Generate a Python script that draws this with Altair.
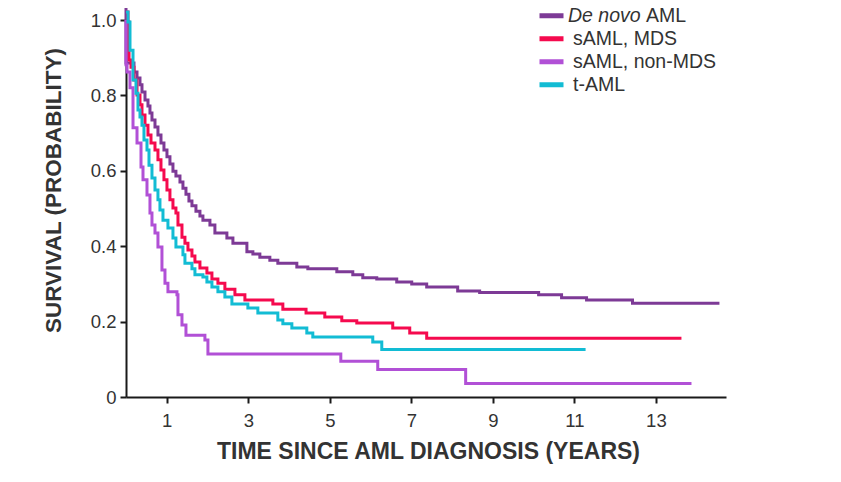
import altair as alt
import pandas as pd

series_names = ["De novo AML", "sAML, MDS", "sAML, non-MDS", "t-AML"]
series_colors = ["#7D3A96", "#F50A4E", "#B150D6", "#12BCD4"]

x_ticks = [1, 3, 5, 7, 9, 11, 13]
y_ticks = [0, 0.2, 0.4, 0.6, 0.8, 1.0]

# Kaplan-Meier steps (years, survival probability)
de_novo_t = [0, 0, 0.196, 0.270, 0.343, 0.392, 0.466, 0.539, 0.588, 0.637, 0.711, 0.784,
             0.858, 0.931, 1.005, 1.078, 1.152, 1.225, 1.324, 1.397, 1.471, 1.544,
             1.618, 1.716, 1.814, 1.887, 2.059, 2.181, 2.475, 2.623, 2.966, 3.113,
             3.284, 3.529, 3.725, 4.191, 4.461, 5.172, 5.564, 5.809, 6.152, 6.642,
             7.010, 7.377, 8.137, 8.676, 10.123, 10.686, 11.299, 12.426, 14.559]
de_novo_s = [1.032, 0.886, 0.862, 0.846, 0.828, 0.809, 0.788, 0.772, 0.753, 0.735, 0.716, 0.695,
             0.674, 0.655, 0.637, 0.618, 0.599, 0.586, 0.570, 0.554, 0.538, 0.520,
             0.507, 0.493, 0.480, 0.469, 0.456, 0.435, 0.422, 0.408, 0.385, 0.379,
             0.371, 0.363, 0.355, 0.345, 0.340, 0.332, 0.324, 0.316, 0.313, 0.305,
             0.300, 0.292, 0.281, 0.277, 0.271, 0.263, 0.257, 0.249, 0.249]

mds_t = [0, 0.049, 0.074, 0.123, 0.196, 0.270, 0.343, 0.392, 0.466, 0.539,
         0.613, 0.711, 0.784, 0.858, 0.931, 1.005, 1.078, 1.152, 1.225, 1.275,
         1.373, 1.446, 1.520, 1.618, 1.691, 1.814, 1.985, 2.108, 2.255, 2.426,
         2.672, 2.917, 3.603, 3.848, 4.417, 4.877, 5.294, 5.662, 6.544, 6.961,
         7.377, 13.627]
mds_s = [1.021, 0.995, 0.894, 0.875, 0.841, 0.801, 0.775, 0.748, 0.721, 0.695,
         0.674, 0.655, 0.629, 0.602, 0.576, 0.549, 0.523, 0.501, 0.488, 0.456,
         0.424, 0.408, 0.390, 0.374, 0.358, 0.342, 0.329, 0.313, 0.302, 0.286,
         0.271, 0.257, 0.247, 0.233, 0.223, 0.212, 0.202, 0.196, 0.183, 0.170,
         0.156, 0.156]

non_mds_t = [0, 0, 0.025, 0.098, 0.172, 0.270, 0.368, 0.417, 0.515, 0.588,
             0.637, 0.711, 0.784, 0.882, 0.956, 1.029, 1.250, 1.275, 1.373, 1.471,
             1.936, 2.010, 5.270, 6.176, 8.333, 13.873]
non_mds_s = [1.0, 0.881, 0.862, 0.820, 0.714, 0.674, 0.610, 0.576, 0.536, 0.488,
             0.456, 0.435, 0.398, 0.337, 0.302, 0.279, 0.271, 0.218, 0.191, 0.164,
             0.151, 0.114, 0.095, 0.073, 0.036, 0.036]

t_aml_t = [0, 0.049, 0.098, 0.172, 0.245, 0.294, 0.343, 0.392, 0.441, 0.515,
           0.564, 0.637, 0.711, 0.784, 0.833, 0.907, 1.029, 1.152, 1.225, 1.397,
           1.446, 1.618, 1.691, 1.887, 1.985, 2.108, 2.255, 2.426, 2.598, 2.990,
           3.235, 3.725, 3.848, 4.069, 4.436, 4.583, 6.054, 6.275, 11.275]
t_aml_s = [1.021, 0.995, 0.920, 0.841, 0.806, 0.761, 0.743, 0.721, 0.682, 0.655,
           0.615, 0.581, 0.549, 0.523, 0.496, 0.469, 0.448, 0.422, 0.398, 0.377,
           0.355, 0.340, 0.324, 0.318, 0.305, 0.292, 0.279, 0.265, 0.247, 0.236,
           0.223, 0.204, 0.194, 0.183, 0.170, 0.159, 0.146, 0.126, 0.126]

rows = []
for name, ts, ss in zip(series_names,
                        [de_novo_t, mds_t, non_mds_t, t_aml_t],
                        [de_novo_s, mds_s, non_mds_s, t_aml_s]):
    for i, (t, s) in enumerate(zip(ts, ss)):
        rows.append({"t": t, "s": s, "group": name, "idx": i})
df = pd.DataFrame(rows)

FONT = "Liberation Sans"
LEG_SIZE = 19.5

lines = alt.Chart(df).mark_line(interpolate="step-after", strokeWidth=3).encode(
    x=alt.X("t:Q",
            scale=alt.Scale(domain=[0, 14.72], nice=False),
            axis=alt.Axis(values=x_ticks, format="d",
                          title="TIME SINCE AML DIAGNOSIS (YEARS)",
                          titleFontSize=23, titleX=302,
                          labelPadding=8, titlePadding=11)),
    y=alt.Y("s:Q",
            scale=alt.Scale(domain=[0, 1], nice=False),
            axis=alt.Axis(values=y_ticks,
                          labelExpr="datum.value == 0 ? '0' : format(datum.value, '.1f')",
                          title="SURVIVAL (PROBABILITY)",
                          titleY=170,
                          labelPadding=4, titlePadding=25)),
    color=alt.Color("group:N",
                    scale=alt.Scale(domain=series_names, range=series_colors),
                    legend=alt.Legend(title=None, orient="none", legendX=411, legendY=-15.6,
                                      symbolType="stroke", symbolSize=576, symbolStrokeWidth=5,
                                      labelFont=FONT, labelFontSize=LEG_SIZE, labelColor="#333333",
                                      labelOffset=7, rowPadding=0, clipHeight=22.7, padding=0,
                                      labelExpr="datum.label == 'De novo AML' ? '' : datum.label")),
    order="idx:Q",
)

italic_part = alt.Chart(pd.DataFrame({"txt": ["De novo"]})).mark_text(
    font=FONT, fontSize=LEG_SIZE, fontStyle="italic", color="#333333", align="left", baseline="middle"
).encode(text="txt:N", x=alt.value(442), y=alt.value(-4.3))

plain_part = alt.Chart(pd.DataFrame({"txt": ["AML"]})).mark_text(
    font=FONT, fontSize=LEG_SIZE, color="#333333", align="left", baseline="middle"
).encode(text="txt:N", x=alt.value(520), y=alt.value(-4.3))

chart = alt.layer(lines, italic_part, plain_part).properties(
    width=600, height=377,
    padding={"left": 118, "top": 12, "right": 60, "bottom": 70},
    autosize=alt.AutoSizeParams(type="none"),
).configure_view(stroke=None).configure_axis(
    grid=False,
    domainColor="#1a1a1a", domainWidth=2,
    tickColor="#1a1a1a", tickWidth=2, tickSize=6,
    labelFont=FONT, labelFontSize=18.5, labelColor="#333333",
    titleFont=FONT, titleFontSize=22.5, titleFontWeight="bold", titleColor="#333333",
)

chart.save("out.html", embed_options={"renderer": "svg", "actions": False})
